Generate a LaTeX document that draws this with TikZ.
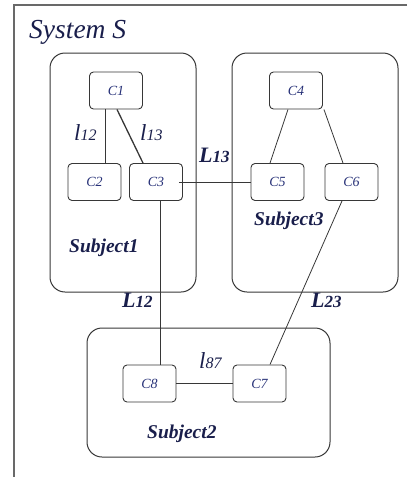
\documentclass[tikz,border=0pt]{standalone}
\usepackage{fontspec}
\setmainfont{Liberation Serif}
\definecolor{ink}{RGB}{25,30,75}
\definecolor{cink}{RGB}{40,50,120}
\definecolor{frame}{RGB}{105,105,105}
\definecolor{edge}{RGB}{55,55,55}
\newcommand{\lk}[2]{{\fontsize{23}{23}\selectfont\itshape #1}{\fontsize{16}{16}\selectfont\itshape #2}}
\newcommand{\Lk}[2]{{\bfseries\itshape\fontsize{22}{22}\selectfont #1}{\bfseries\itshape\fontsize{17}{17}\selectfont #2}}
\begin{document}
\begin{tikzpicture}[x=1pt,y=-1pt,
  comp/.style={draw=edge,line width=0.9pt,rounded corners=4pt,minimum width=53pt,minimum height=37pt,inner sep=0pt,font=\fontsize{14}{14}\selectfont\itshape,text=cink},
  subj/.style={draw=edge,line width=1pt,rounded corners=15pt,inner sep=0pt},
  lab/.style={inner sep=0pt,anchor=base west,text=ink},
  link/.style={edge,line width=0.8pt}]
\useasboundingbox (0,0) rectangle (408,477);
% system frame, open at right and bottom
\draw[frame,line width=1.5pt] (407,5) -- (14,5) -- (14,477);
\node[lab,font=\fontsize{27.5}{27.5}\selectfont\itshape] (sys) at (29,38) {System S};
% subjects
\node[subj,minimum width=146pt,minimum height=239pt] (sub1) at (123,172.5) {};
\node[subj,minimum width=166pt,minimum height=239pt] (sub3) at (315,172.5) {};
\node[subj,minimum width=243pt,minimum height=129pt] (sub2) at (208.5,392.5) {};
\node[lab,font=\fontsize{19.5}{19.5}\selectfont\bfseries\itshape] (s1) at (69,252) {Subject1};
\node[lab,font=\fontsize{19.5}{19.5}\selectfont\bfseries\itshape] (s3) at (254,225) {Subject3};
\node[lab,font=\fontsize{19.5}{19.5}\selectfont\bfseries\itshape] (s2) at (147,438) {Subject2};
% components
\node[comp] (C1) at (116,90.5) {C1};
\node[comp] (C4) at (296,90.5) {C4};
\node[comp] (C2) at (94.5,182) {C2};
\node[comp] (C3) at (156,182) {C3};
\node[comp] (C5) at (277.5,182) {C5};
\node[comp] (C6) at (351.5,182) {C6};
\node[comp] (C8) at (149.5,383.5) {C8};
\node[comp] (C7) at (259.5,383.5) {C7};
% inner links
\draw[link] ([xshift=-11pt]C1.south) -- ([xshift=-11pt]C1.south |- C2.north);
\draw[link,line width=1.3pt] ([xshift=1pt]C1.south) -- ([xshift=-13pt]C3.north);
\draw[link] ([xshift=-8pt]C4.south) -- ([xshift=-7.5pt]C5.north);
\draw[link] ([xshift=1pt]C4.south east) -- ([xshift=-8.5pt]C6.north);
\draw[link] (C8.east) -- (C7.west);
% links between subjects
\draw[link] ([xshift=-4pt]C3.east) -- (C5.west);
\draw[link] ([xshift=4pt]C3.south) -- ([xshift=4pt]C3.south |- C8.north);
\draw[link] ([xshift=-9.5pt]C6.south) -- ([xshift=10.5pt]C7.north);
% labels
\node[lab] (l12) at (74,140) {\lk{l}{12}};
\node[lab] (l13) at (140,140) {\lk{l}{13}};
\node[lab] (l87) at (199,368) {\lk{l}{87}};
\node[lab] (L13) at (199,162) {\Lk{L}{13}};
\node[lab] (L12) at (122,307) {\Lk{L}{12}};
\node[lab] (L23) at (311,307) {\Lk{L}{23}};
\end{tikzpicture}
\end{document}
